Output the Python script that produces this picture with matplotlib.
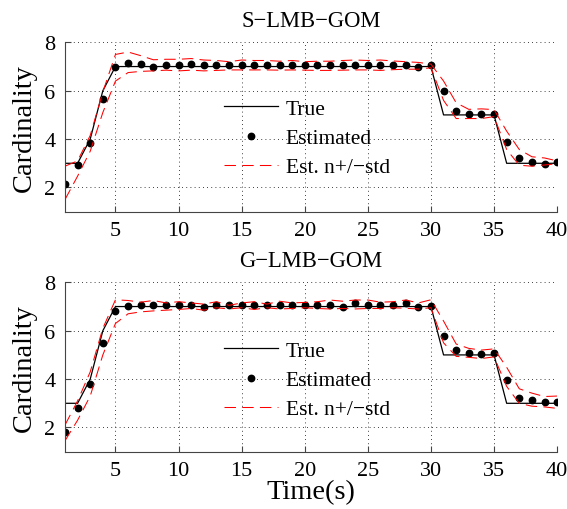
import matplotlib
matplotlib.use('Agg')
import matplotlib.pyplot as plt

plt.rcParams['font.family'] = ['Liberation Serif', 'DejaVu Serif']

t = list(range(1, 41))

true_n = [3, 3, 4, 6, 7, 7, 7, 7, 7, 7,
          7, 7, 7, 7, 7, 7, 7, 7, 7, 7,
          7, 7, 7, 7, 7, 7, 7, 7, 7, 7,
          5, 5, 5, 5, 5, 3, 3, 3, 3, 3]

# S-LMB-GOM
est_s = [2.16, 2.94, 3.82, 5.65, 6.99, 7.15, 7.10, 7.00, 7.05, 7.05,
         7.10, 7.05, 7.05, 7.05, 7.05, 7.05, 7.05, 7.05, 7.05, 7.05,
         7.05, 7.05, 7.05, 7.05, 7.05, 7.05, 7.05, 7.05, 7.00, 7.06,
         6.00, 5.16, 5.05, 5.05, 5.05, 3.89, 3.23, 3.05, 2.99, 3.05]
up_s = [2.88, 3.10, 4.15, 5.95, 7.50, 7.60, 7.45, 7.28, 7.30, 7.30,
        7.33, 7.27, 7.25, 7.20, 7.27, 7.25, 7.25, 7.22, 7.25, 7.20,
        7.22, 7.22, 7.25, 7.27, 7.25, 7.27, 7.23, 7.20, 7.17, 7.10,
        6.40, 5.50, 5.23, 5.25, 5.22, 4.33, 3.57, 3.27, 3.22, 3.10]
lo_s = [1.50, 2.47, 3.50, 5.10, 6.40, 6.75, 6.80, 6.82, 6.85, 6.82,
        6.85, 6.82, 6.84, 6.86, 6.86, 6.86, 6.86, 6.85, 6.86, 6.85,
        6.84, 6.84, 6.85, 6.86, 6.86, 6.84, 6.87, 6.89, 6.89, 6.95,
        5.60, 4.85, 4.85, 4.85, 4.93, 3.57, 2.92, 2.88, 2.93, 2.98]

# G-LMB-GOM
est_g = [1.83, 2.81, 3.80, 5.48, 6.80, 7.01, 7.05, 7.05, 7.05, 7.05,
         7.05, 6.99, 7.05, 7.05, 7.05, 7.05, 7.05, 7.05, 7.05, 7.05,
         7.05, 7.05, 6.99, 7.13, 7.05, 7.05, 7.05, 7.13, 6.99, 7.03,
         5.80, 5.20, 5.08, 5.02, 5.08, 3.98, 3.20, 3.15, 3.04, 3.04]
up_g = [2.10, 3.10, 4.30, 6.10, 7.28, 7.25, 7.18, 7.25, 7.15, 7.20,
        7.15, 7.10, 7.20, 7.05, 7.15, 7.20, 7.10, 7.22, 7.15, 7.17,
        7.20, 7.27, 7.22, 7.27, 7.27, 7.18, 7.20, 7.27, 7.15, 7.28,
        6.40, 5.45, 5.27, 5.20, 5.25, 4.49, 3.60, 3.42, 3.28, 3.30]
lo_g = [1.45, 2.30, 3.30, 5.00, 6.30, 6.70, 6.78, 6.82, 6.85, 6.88,
        6.92, 6.85, 6.95, 6.90, 6.95, 6.88, 6.95, 6.90, 6.92, 6.95,
        6.92, 6.90, 6.92, 6.90, 6.92, 6.92, 6.95, 6.93, 6.90, 6.95,
        5.50, 4.94, 4.90, 4.85, 4.92, 3.70, 3.00, 2.88, 2.85, 2.79]

fig = plt.figure(figsize=(5.67, 5.10), dpi=100)
ax1 = fig.add_axes([0.1146, 0.583, 0.868, 0.332])
ax2 = fig.add_axes([0.1146, 0.1124, 0.868, 0.332])


def panel(ax, est, up, lo, title, leg_y):
    ax.plot(t, true_n, color='black', lw=0.9, label='True')
    ax.plot(t, est, 'o', color='black', ms=4.6, label='Estimated')
    ax.plot(t, up, color='red', lw=0.75, dashes=(11, 6), label='Est. n+/\u2212std')
    ax.plot(t, lo, color='red', lw=0.75, dashes=(11, 6))
    ax.set_xlim(1, 40)
    ax.set_ylim(1, 8)
    ax.set_xticks([5, 10, 15, 20, 25, 30, 35, 40])
    ax.set_yticks([2, 4, 6, 8])
    ax.grid(True, color='black', linestyle=(0, (1, 4)), lw=0.6)
    ax.spines['top'].set_visible(False)
    ax.spines['right'].set_visible(False)
    ax.spines['left'].set_color('#444444')
    ax.spines['bottom'].set_color('#444444')
    ax.tick_params(direction='in', labelsize=16, length=4, color='#444444', pad=7)
    ax.set_title(title, fontsize=16.3, pad=12)
    ax.set_ylabel('Cardinality', fontsize=20.5, labelpad=5)
    ax.legend(loc='center left', bbox_to_anchor=(0.324, leg_y), frameon=False,
              fontsize=15.5, handlelength=2.5, handletextpad=0.35,
              labelspacing=0.42, borderpad=0, borderaxespad=0)


panel(ax1, est_s, up_s, lo_s, 'S\u2212LMB\u2212GOM', 0.435)
panel(ax2, est_g, up_g, lo_g, 'G\u2212LMB\u2212GOM', 0.423)
ax2.set_xlabel('Time(s)', fontsize=20.5, labelpad=-1)

fig.savefig('out.png', dpi=100)
